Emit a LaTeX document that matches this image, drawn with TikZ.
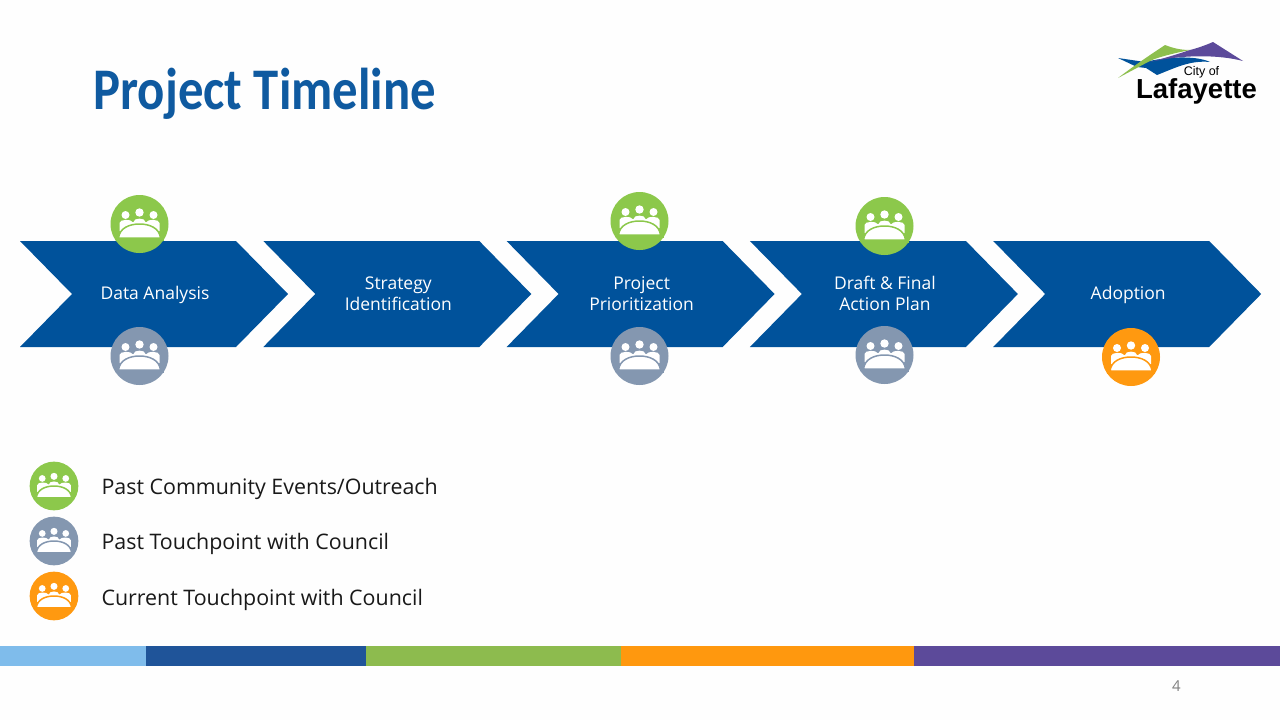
\documentclass[tikz,border=0pt]{standalone}
\usepackage{fontspec}
\setmainfont{Open Sans}
\newfontfamily\titlefont[FakeStretch=0.86]{Carlito}
\newfontfamily\logofont{Liberation Sans}
\definecolor{arrowblue}{HTML}{00529B}
\definecolor{titleblue}{HTML}{0F5AA0}
\definecolor{eventgreen}{HTML}{8CC84B}
\definecolor{councilgray}{HTML}{8497B0}
\definecolor{currentorange}{HTML}{FF9910}
\definecolor{barsky}{HTML}{7FBCEB}
\definecolor{barblue}{HTML}{1F5499}
\definecolor{bargreen}{HTML}{8DBB4E}
\definecolor{barorange}{HTML}{FF980E}
\definecolor{barpurple}{HTML}{5C4A9A}
\tikzset{
    steplabel/.style={text=white,align=center,font=\fontsize{17.5}{21}\selectfont},
    legendlabel/.style={anchor=west,text=black!90,font=\fontsize{21.4}{25}\selectfont},
    pics/meeting/.style={code={
        \fill[#1] (0,0) circle (29);
        \fill[white] (-14,-9) circle (4) (0,-11.5) circle (4.2) (14,-9) circle (4);
        \fill[white] (-20,7) -- (-20,-1) .. controls (-20,-5) and (-8,-5) .. (-7,-2) -- (7,-2) .. controls (8,-5) and (20,-5) .. (20,-1) -- (20,7) -- cycle;
        \fill[white] (-6,0) -- (-6,-2) .. controls (-6,-6.5) and (6,-6.5) .. (6,-2) -- (6,0) -- cycle;
        \filldraw[fill=white,draw=#1,line width=1.5pt] (-21,14) .. controls (-20,4) and (-10,0) .. (0,0) .. controls (10,0) and (20,4) .. (21,14) -- cycle;
        \fill[#1] (-24,14) rectangle (24,17);
    }}
}
\begin{document}
\begin{tikzpicture}[x=1pt,y=-1pt]
    \useasboundingbox (0,0) rectangle (1280,720);
    \fill[black!0.5] (0,0) rectangle (1280,720);
    \node[anchor=west,text=titleblue,font=\titlefont\bfseries\fontsize{59}{62}\selectfont] (title) at (90,94) {Project Timeline};
    % logo
    \fill[arrowblue] (1118,58) -- (1145,62) .. controls (1165,57) and (1195,55) .. (1210,62) .. controls (1190,60) and (1175,68) .. (1157,75) -- (1146,68) -- (1137,67) -- cycle;
    \fill[bargreen!70!eventgreen] (1118,78) .. controls (1135,65) and (1150,55) .. (1165,45) .. controls (1175,49) and (1183,50) .. (1190,50) .. controls (1170,54) and (1155,58) .. (1148,62) -- cycle;
    \fill[barpurple] (1150,62) .. controls (1165,58) and (1178,54) .. (1190,50) .. controls (1198,48) and (1206,45) .. (1213,42) -- (1243,61) .. controls (1220,55) and (1185,54) .. cycle;
    \node[anchor=base,inner sep=0pt,text depth=0pt,font=\logofont\fontsize{12.5}{14}\selectfont] (cityof) at (1201.5,75) {City of};
    \node[anchor=base,inner sep=0pt,text height=20pt,font=\logofont\bfseries\fontsize{27.5}{30}\selectfont] (lafayette) at (1196.5,98.5) {Lafayette};
    % arrows
    \foreach \xs/\ys/\name/\txt in {20/295/analysis/Data Analysis,263.3/294/strategy/{Strategy\\Identification},506.6/294/prioritization/{Project\\Prioritization},749.9/293/plan/{Draft \& Final\\Action Plan},993.2/295/adoption/Adoption}{
        \fill[arrowblue] (\xs,241) -- ++(216,0) -- ++(52,53) -- ++(-52,53) -- ++(-216,0) -- ++(52,-53) -- cycle;
        \node[steplabel] (\name) at (\xs+135,\ys) {\txt};
    }
    % icons
    \pic (analysisup) at (139.5,224) {meeting=eventgreen};
    \pic (analysisdown) at (139.5,356) {meeting=councilgray};
    \pic (prioritizationup) at (639.5,221) {meeting=eventgreen};
    \pic (prioritizationdown) at (639.5,356) {meeting=councilgray};
    \pic (planup) at (884.5,226) {meeting=eventgreen};
    \pic (plandown) at (884.5,355) {meeting=councilgray};
    \pic (adoptiondown) at (1131,357) {meeting=currentorange};
    % legend
    \pic[scale=.84] (legendevent) at (54,486) {meeting=eventgreen};
    \pic[scale=.84] (legendpast) at (54,541) {meeting=councilgray};
    \pic[scale=.84] (legendcurrent) at (54,596) {meeting=currentorange};
    \node[legendlabel] (eventtext) at (98,489) {Past Community Events/Outreach};
    \node[legendlabel] (pasttext) at (98,543.5) {Past Touchpoint with Council};
    \node[legendlabel] (currenttext) at (98,599.5) {Current Touchpoint with Council};
    % colour bar
    \fill[barsky] (0,646) rectangle (146,666);
    \fill[barblue] (146,646) rectangle (365.5,666);
    \fill[bargreen] (365.5,646) rectangle (620.5,666);
    \fill[barorange] (620.5,646) rectangle (913.5,666);
    \fill[barpurple] (913.5,646) rectangle (1280,666);
    \node[text=black!50,font=\fontsize{15}{18}\selectfont] (pagenumber) at (1176.5,686) {4};
\end{tikzpicture}
\end{document}
